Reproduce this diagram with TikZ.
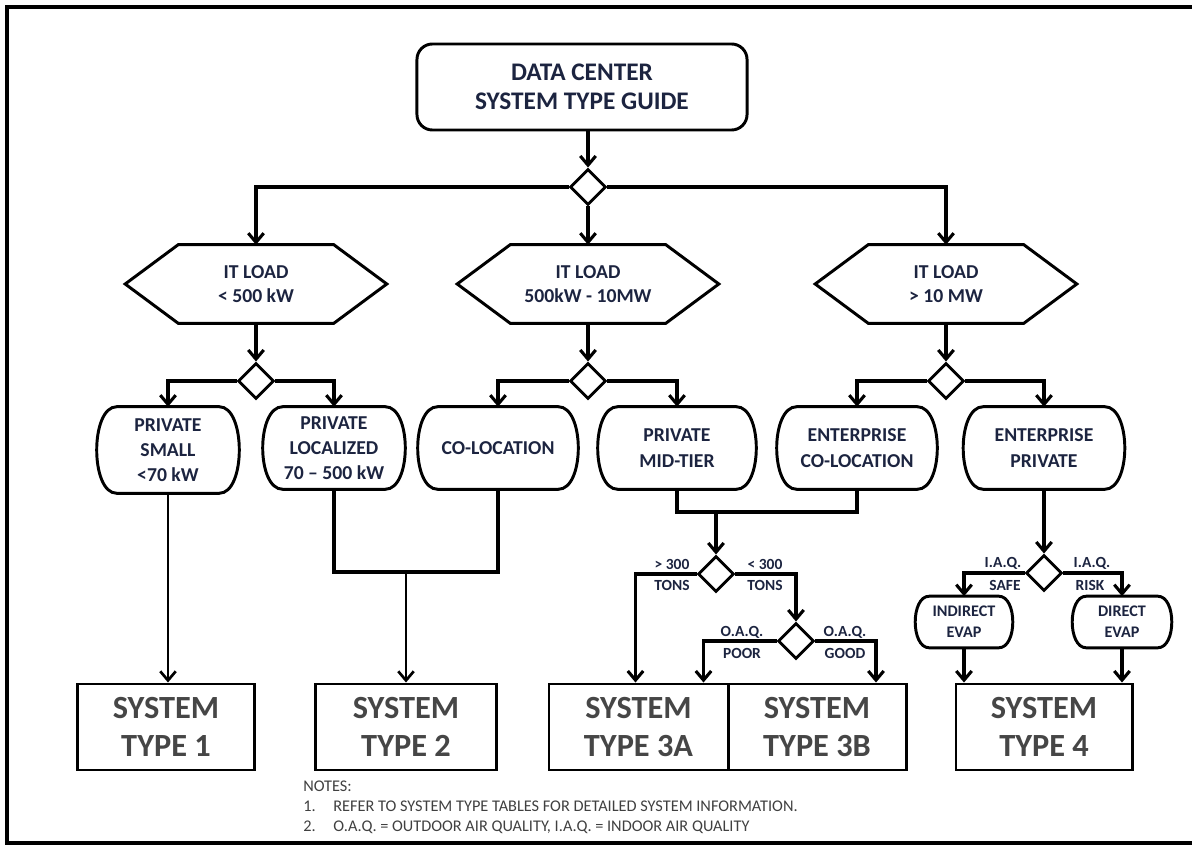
\documentclass[tikz,border=0pt]{standalone}
\usepackage{fontspec}
\setmainfont{Carlito}
\usepackage{xcolor}
\usepackage{tikz}
\usetikzlibrary{shapes.geometric,arrows.meta,calc,positioning}
\definecolor{inkblue}{RGB}{28,36,64}
\definecolor{notegray}{RGB}{64,64,64}
\definecolor{systext}{RGB}{70,70,70}

\begin{document}
\begin{tikzpicture}[x=0.025cm,y=-0.025cm,
                    >={Straight Barb[length=6.5pt,width=11pt]},
                    conn/.style={line width=2.2pt},
                    merge/.style={line width=2.8pt},
                    feed/.style={line width=1.9pt},
                    outline/.style={line width=2.1pt},
                    txt/.style={text=inkblue,font=\bfseries\fontsize{14}{18}\selectfont,align=center},
                    tag/.style={text=inkblue,font=\bfseries\fontsize{11}{13}\selectfont,inner sep=0pt},
                    note/.style={text=notegray,font=\fontsize{11.6}{14}\selectfont,inner sep=0pt,anchor=base west},
                    titlebox/.style={txt,draw,outline,rounded corners=11pt,
                        minimum width=330*0.7113pt,minimum height=86*0.7113pt,
                        font=\bfseries\fontsize{18}{21}\selectfont},
                    hexbox/.style={txt,font=\bfseries\fontsize{14}{17}\selectfont,
                        minimum width=261*0.7113pt,minimum height=78*0.7113pt},
                    sidebox/.style n args={2}{txt,inner sep=0pt,
                        minimum width=#1*0.7113pt,minimum height=#2*0.7113pt},
                    choice/.style={diamond,draw,outline,fill=white,inner sep=0pt,
                        minimum width=36*0.7113pt,minimum height=36*0.7113pt},
                    sysbox/.style={draw,outline,minimum height=86*0.7113pt,minimum width=#1*0.7113pt,
                        text=systext,font=\bfseries\fontsize{23}{27}\selectfont,align=center}]
    \useasboundingbox (0,0) rectangle (1192,846);
    \draw[line width=2.4pt] (1192,7) -- (7,7) -- (7,843) -- (1192,843);

    \node[titlebox] (title) at (582,87) {DATA CENTER\\SYSTEM TYPE GUIDE};
    \node[choice] (d0) at (588,187) {};

    \node[hexbox] (hexlow) at (256,284) {IT LOAD\\< 500 kW};
    \node[hexbox] (hexmid) at (588,284) {IT LOAD\\500kW - 10MW};
    \node[hexbox] (hexhigh) at (946,284) {IT LOAD\\> 10 MW};
    \foreach \h in {hexlow,hexmid,hexhigh}
        \draw[outline] (\h.west) -- ($(\h.north west)+(53,0)$) -- ($(\h.north east)+(-53,0)$)
            -- (\h.east) -- ($(\h.south east)+(-53,0)$) -- ($(\h.south west)+(53,0)$) -- cycle;

    \node[choice] (d1) at (256,381) {};
    \node[choice] (d2) at (588,381) {};
    \node[choice] (d3) at (946,381) {};

    \node[sidebox={142}{86}] (small) at (168,450) {PRIVATE\\SMALL\\<70 kW};
    \node[sidebox={142}{82}] (local) at (334,448) {PRIVATE\\LOCALIZED\\70 – 500 kW};
    \node[sidebox={160}{82}] (coloc) at (498,448) {CO-LOCATION};
    \node[sidebox={158}{82}] (midtier) at (677,448) {PRIVATE\\MID-TIER};
    \node[sidebox={160}{82}] (entcoloc) at (857,448) {ENTERPRISE\\CO-LOCATION};
    \node[sidebox={161}{82}] (entpriv) at (1044,448) {ENTERPRISE\\PRIVATE};

    \node[choice] (dtons) at (716,574) {};
    \node[choice] (doaq) at (796,641) {};
    \node[choice] (diaq) at (1044,573) {};

    \node[sidebox={97}{51},font=\bfseries\fontsize{11.5}{15}\selectfont] (indirect) at (964,622) {INDIRECT\\EVAP};
    \node[sidebox={99}{51},font=\bfseries\fontsize{11.5}{15}\selectfont] (direct) at (1122,622) {DIRECT\\EVAP};
    \foreach \n/\k in {small/20,local/20,coloc/20,midtier/20,entcoloc/20,entpriv/20,indirect/14,direct/14}
        \draw[outline] ($(\n.north west)+(\k,0)$) -- ($(\n.north east)+(-\k,0)$)
            .. controls ($(\n.north east)+(\k/3,0)$) and ($(\n.south east)+(\k/3,0)$) .. ($(\n.south east)+(-\k,0)$)
            -- ($(\n.south west)+(\k,0)$)
            .. controls ($(\n.south west)+(-\k/3,0)$) and ($(\n.north west)+(-\k/3,0)$) .. ($(\n.north west)+(\k,0)$)
            -- cycle;

    \node[sysbox=177] (sys1) at (166,727) {SYSTEM\\TYPE 1};
    \node[sysbox=181] (sys2) at (406,727) {SYSTEM\\TYPE 2};
    \node[sysbox=179] (sys3a) at (638.5,727) {SYSTEM\\TYPE 3A};
    \node[sysbox=178] (sys3b) at (817,727) {SYSTEM\\TYPE 3B};
    \node[sysbox=176] (sys4) at (1044,727) {SYSTEM\\TYPE 4};

    \coordinate (join2) at (406,572);
    \coordinate (join3) at (716,512);

    \draw[conn,->] (title.south -| d0) -- (d0.north);
    \draw[conn,->] (d0.west) -| (hexlow.north);
    \draw[conn,->] (d0) -- (hexmid);
    \draw[conn,->] (d0.east) -| (hexhigh.north);

    \draw[conn,->] (hexlow) -- (d1);
    \draw[conn,->] (hexmid) -- (d2);
    \draw[conn,->] (hexhigh) -- (d3);
    \draw[conn,->] (d1.west) -| (small.north);
    \draw[conn,->] (d1.east) -| (local.north);
    \draw[conn,->] (d2.west) -| (coloc.north);
    \draw[conn,->] (d2.east) -| (midtier.north);
    \draw[conn,->] (d3.west) -| (entcoloc.north);
    \draw[conn,->] (d3.east) -| (entpriv.north);

    \draw[feed,->] (small) -- (small |- sys1.north);
    \draw[merge] (local.south) |- (join2) -| (coloc.south);
    \draw[feed,->] (join2) -- (sys2.north);
    \draw[merge] (midtier.south) |- (join3) -| (entcoloc.south);
    \draw[conn,->] (join3) -- (dtons.north);

    \draw[conn,->] (dtons.west) -| ($(sys3a.north)+(-3,0)$);
    \draw[conn,->] (dtons.east) -| (doaq.north);
    \draw[conn,->] (doaq.west) -| ($(sys3a.north)+(65,0)$);
    \draw[conn,->] (doaq.east) -| ($(sys3b.north)+(59,0)$);

    \draw[conn,->] (entpriv) -- (diaq);
    \draw[conn,->] (diaq.west) -| (indirect.north);
    \draw[conn,->] (diaq.east) -| (direct.north);
    \draw[conn,->] (indirect) -- (indirect |- sys4.north);
    \draw[conn,->] (direct) -- (direct |- sys4.north);

    \node[tag] (gt300) at (672,564) {> 300};
    \node[tag] (gttons) at (672,585) {TONS};
    \node[tag] (lt300) at (765,564) {< 300};
    \node[tag] (lttons) at (765,585) {TONS};
    \node[tag] (poorq) at (742,632) {O.A.Q.};
    \node[tag] (poor) at (742,653) {POOR};
    \node[tag] (goodq) at (845,632) {O.A.Q.};
    \node[tag] (good) at (845,653) {GOOD};
    \node[tag] (safeq) at (1003,563) {I.A.Q.};
    \node[tag] (safe) at (1005,585) {SAFE};
    \node[tag] (riskq) at (1092,563) {I.A.Q.};
    \node[tag] (risk) at (1090,585) {RISK};

    \node[note] (notes) at (303,791) {NOTES:};
    \node[note] (note1n) at (303,811) {1.};
    \node[note] (note1) at (333,811) {REFER TO SYSTEM TYPE TABLES FOR DETAILED SYSTEM INFORMATION.};
    \node[note] (note2n) at (303,831) {2.};
    \node[note] (note2) at (333,831) {O.A.Q. = OUTDOOR AIR QUALITY, I.A.Q. = INDOOR AIR QUALITY};
\end{tikzpicture}
\end{document}
